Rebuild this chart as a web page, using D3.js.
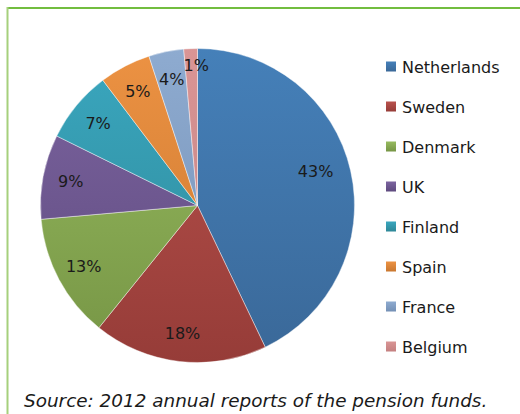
<!DOCTYPE html>
<html>
<head>
<meta charset="utf-8">
<script src="https://cdn.jsdelivr.net/npm/d3@7.9.0/dist/d3.min.js"></script>
<style>
  body { margin: 0; background: #fff; }
  svg { display: block; font-family: 'DejaVu Sans', sans-serif; }
</style>
</head>
<body>
<svg id="chart" width="520" height="414"></svg>
<script>
const countries = ['Netherlands', 'Sweden', 'Denmark', 'UK', 'Finland', 'Spain', 'France', 'Belgium'];
const shares = [42.9, 17.9, 12.8, 8.7, 7.4, 5.3, 3.6, 1.4];
// top / bottom colours of each slice gradient
const topColors = ['#4580b9', '#b9524d', '#97bb5f', '#7c64a0', '#3aa7bf', '#ec9243', '#8eabd0', '#d99595'];
const bottomColors = ['#3a6898', '#963c38', '#769545', '#5e4a7e', '#2e8797', '#c9772f', '#7490b5', '#c48080'];
const sourceNote = 'Source: 2012 annual reports of the pension funds.';

const svg = d3.select('#chart');
const cx = 197.5, cy = 205.5, R = 157;

// frame: green top and left rules
svg.append('line').attr('x1', 7.5).attr('x2', 520).attr('y1', 8).attr('y2', 8)
  .attr('stroke', '#72bd3f').attr('stroke-width', 2);
svg.append('line').attr('x1', 7.5).attr('x2', 7.5).attr('y1', 7).attr('y2', 414)
  .attr('stroke', '#a6d07c').attr('stroke-width', 2);

const data = countries.map((c, i) => ({ country: c, value: shares[i], i }));

const defs = svg.append('defs');
data.forEach(d => {
  const g = defs.append('linearGradient')
    .attr('id', 'grad' + d.i)
    .attr('gradientUnits', 'userSpaceOnUse')
    .attr('x1', 0).attr('x2', 0).attr('y1', -R).attr('y2', R);
  g.append('stop').attr('offset', '0%').attr('stop-color', topColors[d.i]);
  g.append('stop').attr('offset', '100%').attr('stop-color', bottomColors[d.i]);

  const lg = defs.append('linearGradient')
    .attr('id', 'lg' + d.i)
    .attr('x1', 0).attr('x2', 0).attr('y1', 0).attr('y2', 1);
  lg.append('stop').attr('offset', '0%').attr('stop-color', topColors[d.i]);
  lg.append('stop').attr('offset', '100%').attr('stop-color', bottomColors[d.i]);
});

const pie = d3.pie().value(d => d.value).sort(null);
const arc = d3.arc().innerRadius(0).outerRadius(R);
const arcs = pie(data);

const g = svg.append('g').attr('transform', `translate(${cx},${cy})`);

g.selectAll('path')
  .data(arcs)
  .join('path')
  .attr('d', arc)
  .attr('fill', d => `url(#grad${d.data.i})`)
  .attr('stroke', 'rgba(255,255,255,0.6)')
  .attr('stroke-width', 0.7);

// thin slices push their label further out, like Excel's best fit
function labelPos(d) {
  const span = d.endAngle - d.startAngle;
  let r = 129, a = (d.startAngle + d.endAngle) / 2;
  if (span < 0.1) { r = 140; a += 0.035; }
  if (span > 2) { r = 123; a -= 0.06; }
  return [Math.sin(a) * r, -Math.cos(a) * r];
}

g.selectAll('text')
  .data(arcs)
  .join('text')
  .attr('transform', d => `translate(${labelPos(d)})`)
  .attr('text-anchor', 'middle')
  .attr('dy', '0.36em')
  .attr('font-size', 16)
  .attr('fill', '#1a1a1a')
  .text(d => Math.round(d.data.value) + '%');

// legend
const legendY = d3.scalePoint().domain(countries).range([67, 347]);
const items = svg.append('g').selectAll('g')
  .data(data)
  .join('g')
  .attr('transform', d => `translate(386,${legendY(d.country)})`);

items.append('rect')
  .attr('x', 0).attr('y', -5.5)
  .attr('width', 10).attr('height', 10)
  .attr('fill', d => `url(#lg${d.i})`);

items.append('text')
  .attr('x', 16)
  .attr('dy', '0.36em')
  .attr('font-size', 16)
  .attr('fill', '#1a1a1a')
  .text(d => d.country);

// source note
svg.append('text')
  .attr('x', 24).attr('y', 407)
  .attr('font-size', 18.4)
  .attr('font-style', 'italic')
  .attr('fill', '#1a1a1a')
  .text(sourceNote);
</script>
</body>
</html>
